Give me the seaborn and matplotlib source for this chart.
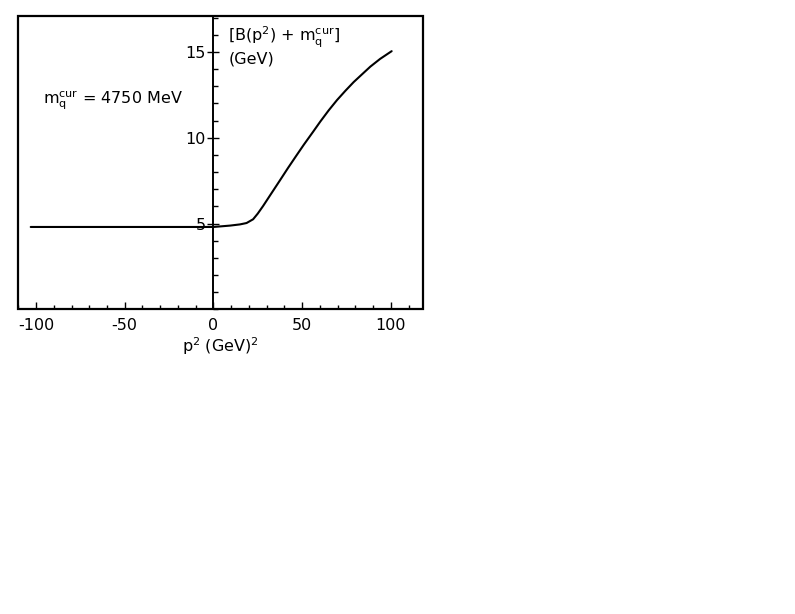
import numpy as np
import matplotlib
matplotlib.use("Agg")
import matplotlib.pyplot as plt
import matplotlib.patches as mpatches
from matplotlib.ticker import MultipleLocator
import seaborn as sns

# curve
p2 = [-103, -50, 0, 9.4, 15, 18.7, 22.4, 25, 28, 32.5, 37.4, 42, 46.7, 51, 56.2,
      60.3, 65, 69.7, 74.5, 79.1, 84, 88.5, 94, 100.5]
B_plus_m = [4.8, 4.8, 4.8, 4.88, 4.95, 5.03, 5.25, 5.58, 6.02, 6.73, 7.5, 8.23, 8.95,
            9.6, 10.35, 10.95, 11.6, 12.2, 12.75, 13.25, 13.72, 14.15, 14.6, 15.05]

x_ticks = [-100, -50, 0, 50, 100]
y_ticks = [5, 10, 15]

sns.set_style("ticks")
plt.rcParams["font.family"] = ["DejaVu Sans"]
plt.rcParams["mathtext.default"] = "regular"
plt.rcParams["text.color"] = "black"
plt.rcParams["axes.labelcolor"] = "black"
plt.rcParams["xtick.color"] = "black"
plt.rcParams["ytick.color"] = "black"

fig = plt.figure(figsize=(7.95, 6.14), dpi=100)
ax = fig.add_axes([18.3 / 795, 1 - 309.3 / 614, 404.4 / 795, 293.3 / 614])

sns.lineplot(x=p2, y=B_plus_m, color="black", linewidth=1.5, ax=ax)

ax.set_xlim(-110, 118)
ax.set_ylim(0, 17.1)

# y axis sits at p^2 = 0, outer box drawn separately
ax.spines["left"].set_position(("data", 0))
for s in ["top", "right", "bottom", "left"]:
    ax.spines[s].set_linewidth(1.4)
    ax.spines[s].set_color("black")
box = mpatches.Rectangle((0, 0), 1, 1, transform=ax.transAxes, fill=False,
                         edgecolor="black", linewidth=1.6, clip_on=False)
ax.add_patch(box)

ax.set_xticks(x_ticks)
ax.set_xticklabels([str(v) for v in x_ticks])
ax.xaxis.set_minor_locator(MultipleLocator(10))
ax.set_yticks(y_ticks)
ax.set_yticklabels([str(v) for v in y_ticks])
ax.yaxis.set_minor_locator(MultipleLocator(1))

ax.tick_params(axis="x", which="major", direction="in", length=5, width=1, labelsize=11.5, pad=6)
ax.tick_params(axis="x", which="minor", direction="in", length=3, width=1)
ax.tick_params(axis="y", which="major", direction="inout", length=9, width=1, labelsize=11.5, pad=1)
ax.tick_params(axis="y", which="minor", direction="in", length=3.5, width=1)

ax.set_xlabel("p$^2$ (GeV)$^2$", fontsize=11.5, labelpad=2)
ax.set_ylabel("")

ax.text(0.519, 0.928, "[B(p$^2$) + m$_q^{cur}$]", transform=ax.transAxes,
        fontsize=11.5, ha="left", va="center")
ax.text(0.519, 0.855, "(GeV)", transform=ax.transAxes,
        fontsize=11.5, ha="left", va="center")
ax.text(0.061, 0.713, "m$_q^{cur}$ = 4750 MeV", transform=ax.transAxes,
        fontsize=11.5, ha="left", va="center")

fig.savefig("out.png", dpi=100)
